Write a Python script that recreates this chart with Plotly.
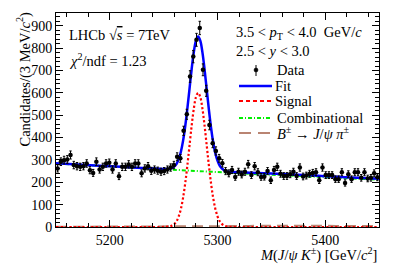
import numpy as np
import plotly.graph_objects as go

# ---------------- data ----------------
mass_lo = 5150.0
bin_width = 3.0
counts = [262, 292, 299, 302, 322, 277, 272, 269, 272, 284,
          254, 242, 292, 257, 269, 284, 287, 257, 284, 227,
          269, 269, 280, 269, 284, 284, 240, 262, 272, 251,
          257, 252, 247, 250, 257, 266, 277, 314, 307, 430,
          504, 673, 762, 837, 890, 703, 609, 456, 374, 340,
          307, 285, 250, 240, 255, 224, 247, 235, 247, 281,
          232, 272, 245, 224, 225, 250, 209, 255, 269, 238,
          228, 228, 236, 247, 228, 266, 226, 230, 238, 242,
          245, 209, 266, 232, 232, 232, 214, 214, 245, 197,
          236, 214, 245, 245, 220, 245, 217, 220, 240, 222]

curve_mass = [5150, 5170, 5190, 5210, 5230,
              5250, 5252, 5254, 5256, 5258, 5260, 5262, 5264, 5266, 5268,
              5270, 5272, 5274, 5276, 5278, 5280, 5282, 5284, 5286, 5288,
              5290, 5292, 5294, 5296, 5298, 5300, 5302, 5304, 5306, 5308,
              5310, 5312, 5314,
              5330, 5350, 5370, 5390, 5410, 5430, 5450]

signal_curve = [0, 0, 0, 0, 0,
                0.2, 0.5, 1.3, 3.1, 6.7, 14, 26, 48, 81, 130,
                195, 275, 364, 453, 529, 581, 600, 581, 529, 453,
                364, 275, 195, 130, 81, 48, 26, 14, 6.7, 3.1,
                1.3, 0.5, 0.2,
                0, 0, 0, 0, 0, 0, 0]

comb_curve = [284.0, 278.5, 273.1, 267.8, 262.6,
              257.6, 257.1, 256.6, 256.1, 255.6, 255.1, 254.6, 254.1, 253.6, 253.1,
              252.6, 252.1, 251.6, 251.1, 250.6, 250.1, 249.6, 249.2, 248.7, 248.2,
              247.7, 247.2, 246.7, 246.2, 245.8, 245.3, 244.8, 244.3, 243.8, 243.4,
              242.9, 242.4, 241.9,
              238.0, 233.5, 229.0, 224.5, 220.0, 215.8, 211.5]

misid_curve = [1, 1, 1, 1.5, 1.5,
               2, 2, 2, 2, 2, 2, 2, 2, 2, 2,
               2.5, 2.5, 2.5, 2.5, 2.5, 2.5, 2.5, 3, 3, 3,
               3, 3, 3, 3, 3, 3.5, 3.5, 3.5, 3.5, 3.5,
               3.5, 4, 4,
               5, 6, 6, 5.5, 5, 4.5, 4]

x_tick_vals = [5200, 5300, 5400]
y_tick_vals = [0, 100, 200, 300, 400, 500, 600, 700, 800, 900]

# -------------- derived --------------
counts_arr = np.array(counts, dtype=float)
centers = mass_lo + bin_width * (np.arange(len(counts)) + 0.5)
errors = np.sqrt(counts_arr)
fit_curve = np.array(signal_curve) + np.array(comb_curve) + np.array(misid_curve)

FONT = "Liberation Serif"

fig = go.Figure()
fig.add_trace(go.Scatter(x=curve_mass, y=comb_curve, mode="lines",
                         line=dict(color="#00ee00", width=2, dash="4px,2px,1px,2px"),
                         showlegend=False, hoverinfo="skip"))
fig.add_trace(go.Scatter(x=curve_mass, y=misid_curve, mode="lines",
                         line=dict(color="#b98472", width=2, dash="11px,6px"),
                         showlegend=False, hoverinfo="skip"))
fig.add_trace(go.Scatter(x=curve_mass, y=signal_curve, mode="lines", line_shape="spline",
                         line=dict(color="#ff0000", width=2.2, dash="2.2px,2.2px"),
                         showlegend=False, hoverinfo="skip"))
fig.add_trace(go.Scatter(x=curve_mass, y=fit_curve, mode="lines", line_shape="spline",
                         line=dict(color="#0000ff", width=2.5),
                         showlegend=False, hoverinfo="skip"))
fig.add_trace(go.Scatter(x=centers, y=counts_arr, mode="markers",
                         marker=dict(color="black", size=4.5),
                         error_y=dict(type="data", array=errors, color="black", thickness=1, width=1.2),
                         error_x=dict(type="data", array=[bin_width / 2] * len(counts), color="black",
                                      thickness=1, width=0),
                         showlegend=False, hoverinfo="skip"))

L, R, T, B = 56, 20, 13, 43
W, H = 399, 270
PW, PH = W - L - R, H - T - B


def px(x):
    return (x - L) / PW


def py(y):
    return (H - B - y) / PH


axis_common = dict(showline=True, linecolor="black", linewidth=1, mirror="ticks",
                   ticks="inside", ticklen=7, tickwidth=1, tickcolor="black",
                   showgrid=False, zeroline=False, automargin=False,
                   tickfont=dict(family=FONT, size=14, color="black"))

fig.update_xaxes(range=[5150, 5450], tickvals=x_tick_vals,
                 minor=dict(dtick=20, tick0=5200, ticklen=4, ticks="inside", tickcolor="black", showgrid=False),
                 **axis_common)
fig.update_yaxes(range=[0, 957], tickvals=y_tick_vals,
                 minor=dict(dtick=20, tick0=0, ticklen=4, ticks="inside", tickcolor="black", showgrid=False),
                 **axis_common)

ann = []


def text(x, y, s, size=14.5, xanchor="left", yanchor="middle", angle=0):
    ann.append(dict(x=px(x), y=py(y), xref="paper", yref="paper", text=s, showarrow=False,
                    xanchor=xanchor, yanchor=yanchor, textangle=angle,
                    font=dict(family=FONT, size=size, color="black")))


text(67, 35, "LHCb √<span style='text-decoration:overline'><i>s</i></span> = 7TeV")
text(67, 60, "<i>χ</i><sup>2</sup>/ndf = 1.23")
text(234, 33, "3.5 &lt; <i>p</i><sub>T</sub> &lt; 4.0  GeV/<i>c</i>")
text(234, 51, "2.5 &lt; <i>y</i> &lt; 3.0")
text(275, 70, "Data")
text(273, 86, "Fit")
text(273, 101, "Signal")
text(275, 118, "Combinational")
text(275, 133, "<i>B</i><sup>±</sup> → <i>J</i>/<i>ψ π</i><sup>±</sup>")
text(24, 10, "Candidates/(3 MeV/<i>c</i><sup>2</sup>)", xanchor="center", yanchor="top", angle=-90)
text(379, 254, "<i>M</i>(<i>J</i>/<i>ψ K</i><sup>±</sup>) [GeV/<i>c</i><sup>2</sup>]", xanchor="right")

shapes = []


def hline(y, color, width, dash):
    shapes.append(dict(type="line", xref="paper", yref="paper", x0=px(239), x1=px(272),
                       y0=py(y), y1=py(y), line=dict(color=color, width=width, dash=dash)))


# legend samples
shapes.append(dict(type="line", xref="paper", yref="paper", x0=px(256), x1=px(256),
                   y0=py(65), y1=py(76), line=dict(color="black", width=1)))
shapes.append(dict(type="circle", xref="paper", yref="paper", x0=px(254), x1=px(258),
                   y0=py(68), y1=py(72), fillcolor="black", line=dict(color="black", width=0.5)))
hline(86, "#0000ff", 2.5, "solid")
hline(101, "#ff0000", 2.2, "4px,3px")
hline(118, "#00ee00", 2, "4px,2px,1px,2px")
hline(133, "#b98472", 2, "12px,7px")

fig.update_layout(width=W, height=H, margin=dict(l=L, r=R, t=T, b=B),
                  plot_bgcolor="white", paper_bgcolor="white",
                  annotations=ann, shapes=shapes, showlegend=False)

fig.write_html("out.html", config={"displayModeBar": False, "staticPlot": True},
               post_script="document.body.style.margin='0';")
